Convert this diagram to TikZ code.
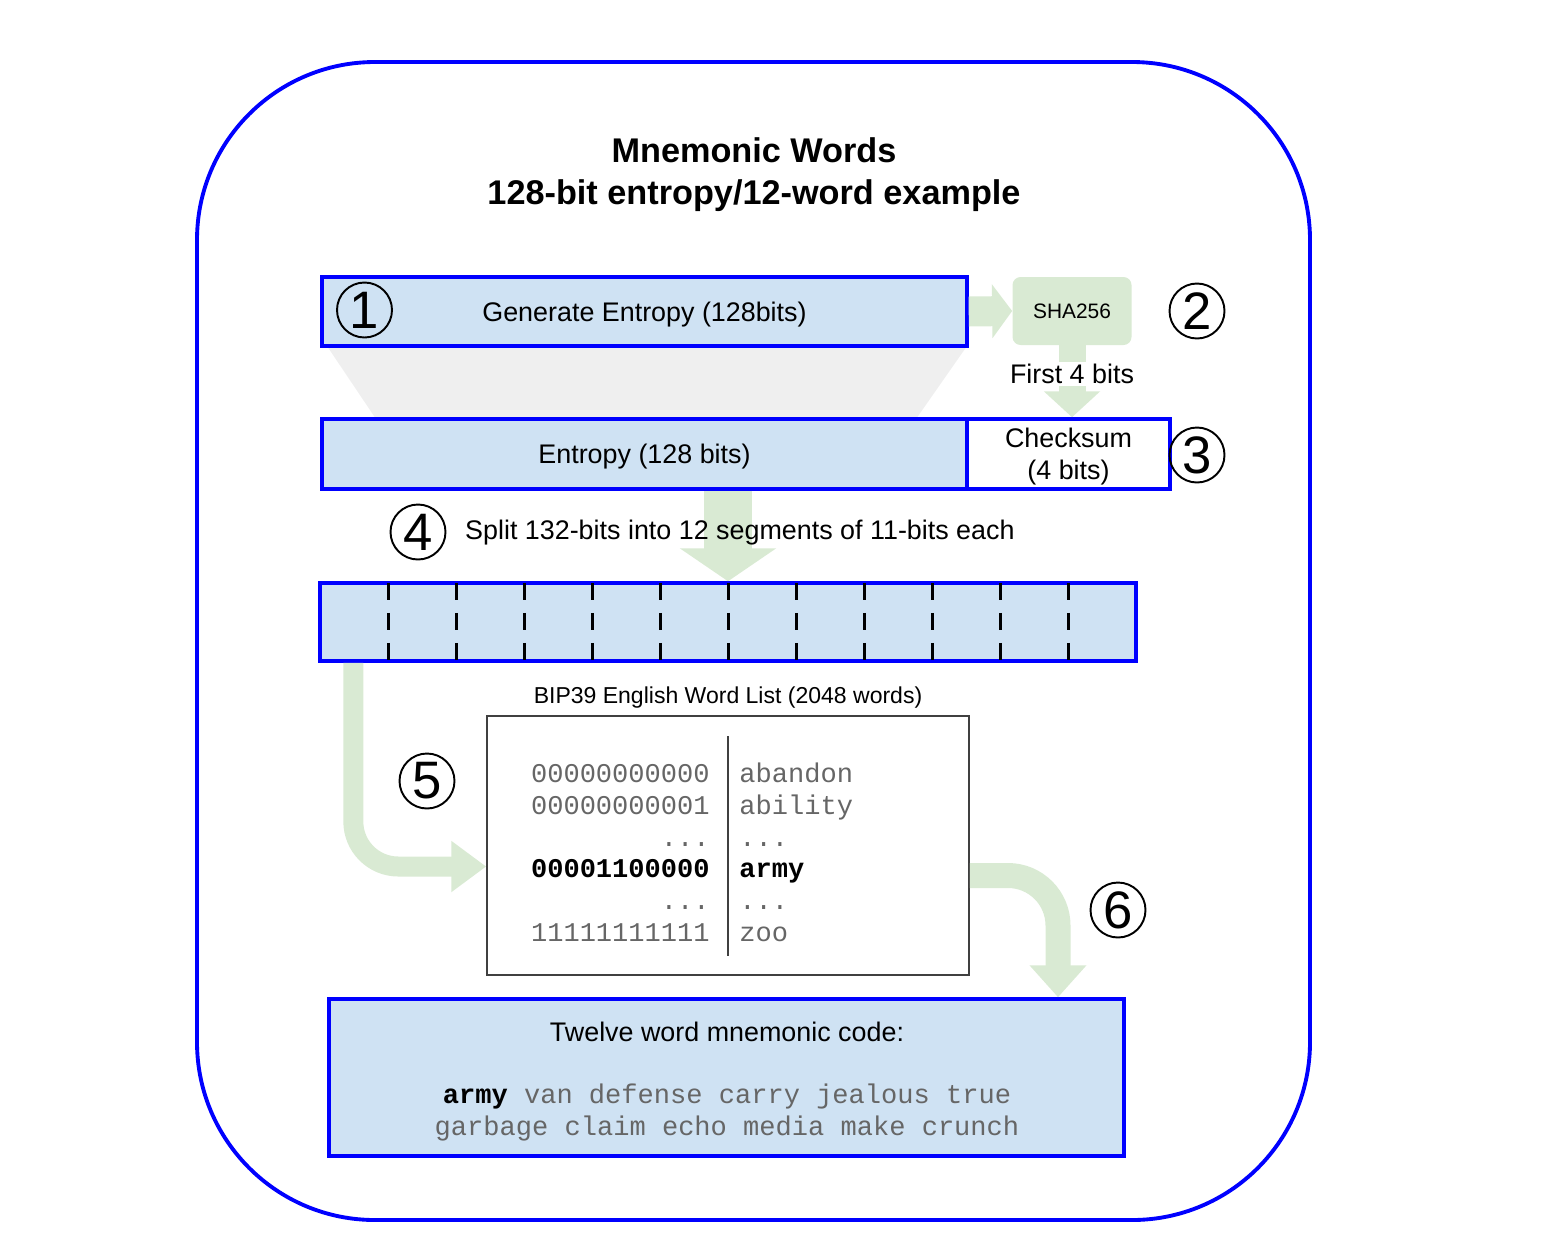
\documentclass[tikz,border=0pt]{standalone}
\usepackage{fontspec}
\setmainfont{Liberation Sans}
\setmonofont{Liberation Mono}
\usepackage{tikz}
\usetikzlibrary{arrows.meta,calc}
\definecolor{boxblue}{HTML}{0000FF}
\definecolor{lightblue}{HTML}{CFE2F3}
\definecolor{flowgreen}{HTML}{D9EAD3}
\definecolor{fangrey}{HTML}{EFEFEF}
\definecolor{wordgrey}{HTML}{666666}
\tikzstyle{frame}=[draw=boxblue, line width=2.2pt, rounded corners=3.56cm]
\tikzstyle{heading}=[align=center, font=\bfseries\fontsize{19.5}{23.8}\selectfont]
\tikzstyle{txt}=[font=\fontsize{15.3}{18.2}\selectfont]
\tikzstyle{bluebox}=[draw=boxblue, line width=2pt, fill=lightblue, inner sep=0pt, text depth=0pt, txt]
\tikzstyle{whitebox}=[draw=boxblue, line width=2pt, fill=white, inner sep=0pt, text depth=0pt, align=center, txt]
\tikzstyle{shabox}=[fill=flowgreen, rounded corners=0.16cm, inner sep=0pt, font=\fontsize{11.9}{14}\selectfont]
\tikzstyle{listbox}=[draw=black!75, line width=0.9pt, inner sep=0pt]
\tikzstyle{num}=[shape=circle, draw, line width=1.1pt, minimum size=1.1cm, inner sep=0pt, font=\fontsize{30}{32}\selectfont]
\tikzstyle{code}=[font=\ttfamily\fontsize{15.4}{18}\selectfont, text=wordgrey, inner sep=0pt]
\tikzstyle{flow}=[draw=flowgreen]
\tikzstyle{divider}=[line width=1.7pt, dash pattern=on 9.6pt off 7.4pt]

\begin{document}
\begin{tikzpicture}[x=0.02cm, y=-0.02cm]
\useasboundingbox (0, 0) rectangle (1557, 1245);
\draw[frame] (197, 62) rectangle (1310, 1220);
\node[heading] (title) at (754, 175) {Mnemonic Words\\128-bit entropy/12-word example};

% entropy and checksum
\fill[fangrey] (327, 346) -- (967, 346) -- (916, 419) -- (376, 419) -- cycle;
\node[bluebox, minimum width=12.9cm, minimum height=1.38cm] (gen) at (644.5, 311.5) {Generate Entropy (128bits)};
\node[shabox, minimum width=2.38cm, minimum height=1.36cm] (sha) at (1072, 311) {SHA256};
\node[bluebox, minimum width=12.9cm, minimum height=1.4cm] (entropy) at (644.5, 454) {Entropy (128 bits)};
\node[whitebox, minimum width=4.06cm, minimum height=1.4cm] (checksum) at (1068.5, 454) {Checksum\\(4 bits)};
\draw[flow, line width=0.6cm, -{Triangle[width=1.06cm, length=0.4cm]}] (gen.east) -- (sha.west);
\draw[flow, line width=0.54cm, -{Triangle[width=1.1cm, length=0.52cm]}] (sha.south) -- (sha.south |- checksum.north);
\node[txt, fill=white, inner sep=1pt] (first) at (1072, 374) {First 4 bits};

% split into segments
\node[bluebox, minimum width=16.32cm, minimum height=1.56cm] (bar) at (728, 622) {};
\foreach \i in {1,...,11}
    \draw[divider] (320+68*\i, 583) -- (320+68*\i, 661);
\draw[flow, line width=0.96cm, -{Triangle[width=1.9cm, length=0.66cm]}] (entropy.south -| bar.north) -- (bar.north);
\node[txt, anchor=west] (split) at (459, 533) {Split 132-bits into 12 segments of 11-bits each};

% word list
\node[txt, font=\fontsize{13.1}{15}\selectfont] (listname) at (728, 698) {BIP39 English Word List (2048 words)};
\node[listbox, minimum width=9.64cm, minimum height=5.18cm] (wordlist) at (728, 845.5) {};
\draw[draw=black!75, line width=0.9pt] (728, 736) -- (728, 956);
\node[code, anchor=base east] (bits1) at (710, 782) {00000000000};
\node[code, anchor=base west] (word1) at (739, 782) {abandon};
\node[code, anchor=base east] (bits2) at (710, 814) {00000000001};
\node[code, anchor=base west] (word2) at (739, 814) {ability};
\node[code, anchor=base east] (dots1) at (710, 846) {...};
\node[code, anchor=base west] (dots2) at (739, 846) {...};
\node[code, anchor=base east, text=black, font=\ttfamily\bfseries\fontsize{15.4}{18}\selectfont] (bits3) at (710, 877) {00001100000};
\node[code, anchor=base west, text=black, font=\ttfamily\bfseries\fontsize{15.4}{18}\selectfont] (word3) at (739, 877) {army};
\node[code, anchor=base east] (dots3) at (710, 909) {...};
\node[code, anchor=base west] (dots4) at (739, 909) {...};
\node[code, anchor=base east] (bits4) at (710, 941) {11111111111};
\node[code, anchor=base west] (word4) at (739, 941) {zoo};
\draw[flow, line width=0.4cm, rounded corners=0.9cm, -{Triangle[width=0.98cm, length=0.7cm]}] ($(bar.south west)+(35, 0)$) |- ($(wordlist.west)+(0, 21)$);

% mnemonic code
\node[bluebox, minimum width=15.9cm, minimum height=3.14cm] (mnemonic) at (726.5, 1077.5) {};
\node[txt] (codename) at (727, 1032) {Twelve word mnemonic code:};
\node[code, anchor=base] (line1) at (727, 1103) {\textcolor{black}{\bfseries army} van defense carry jealous true};
\node[code, anchor=base] (line2) at (727, 1135) {garbage claim echo media make crunch};
\draw[flow, line width=0.5cm, rounded corners=1cm, -{Triangle[width=1.1cm, length=0.64cm]}] ($(wordlist.east)+(0, 30)$) -| ($(mnemonic.north)+(331.5, 0)$);

% step numbers
\node[num] (n1) at (364.5, 310) {1};
\node[num] (n2) at (1197, 311) {2};
\node[num] (n3) at (1197, 455) {3};
\node[num] (n4) at (418, 532) {4};
\node[num] (n5) at (427, 781) {5};
\node[num] (n6) at (1118, 910) {6};
\end{tikzpicture}
\end{document}
